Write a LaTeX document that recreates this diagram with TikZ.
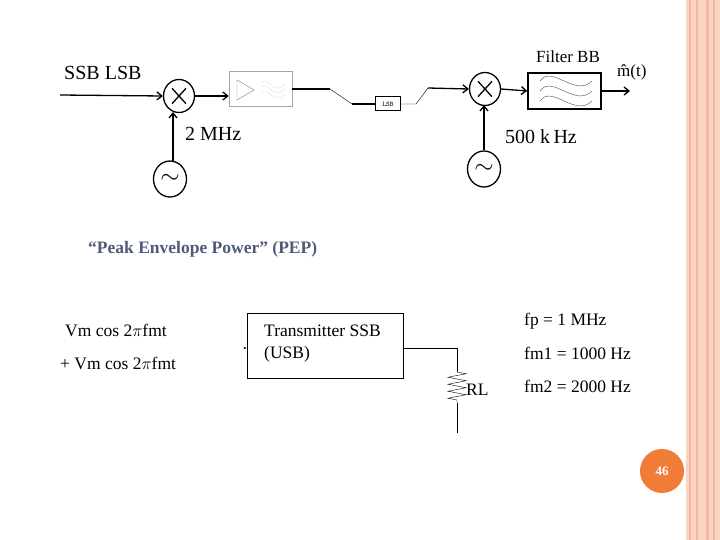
\documentclass[tikz,border=0pt]{standalone}
\usepackage{fontspec}
\setmainfont{Liberation Serif}
\usetikzlibrary{arrows.meta,decorations.pathmorphing,shapes.geometric,calc}
\definecolor{stripe}{HTML}{FBD3C3}
\definecolor{stripel}{HTML}{F5B7A0}
\definecolor{pgc}{HTML}{F07C38}
\definecolor{pepc}{HTML}{4F5B78}
\begin{document}
\begin{tikzpicture}[x=1pt,y=-1pt,
  wire/.style={line width=1.3pt},
  arr/.style={wire,-{Straight Barb[length=5pt,width=8pt]}},
  mix/.style={draw,line width=1.3pt,ellipse,minimum width=31pt,minimum height=33pt,inner sep=0pt},
  osc/.style={draw,line width=1.3pt,ellipse,minimum width=33pt,minimum height=36pt,inner sep=0pt,font=\fontsize{24}{24}\selectfont},
  lbl/.style={inner sep=0pt,font=\fontsize{20}{20}\selectfont},
  txt/.style={inner sep=0pt,anchor=west,font=\fontsize{17.5}{17.5}\selectfont}]
\useasboundingbox (0,0) rectangle (720,540);
\fill[white] (0,0) rectangle (720,540);
% right stripes
\fill[stripe] (686,0) rectangle (720,540);
\foreach \x/\w in {690/2.5,697/2,707/3,714/2}
  \draw[stripel,line width=\w pt] (\x,0) -- (\x,540);
% top chain
\node[lbl,anchor=west] (ssb) at (64,73) {SSB LSB};
\coordinate (in) at (60,95);
\node[mix] (m1) at (179,96) {};
\node[draw=gray!70,minimum width=63pt,minimum height=35pt,inner sep=0pt] (b1) at (260.5,89) {};
\draw[gray] (237,80) -- (254,90) -- (237,100) -- cycle;
\foreach \dy in {0,5,10}
  \draw[gray!70,densely dotted] (262,82+\dy) .. controls (268,76+\dy) and (274,96+\dy) .. (285,84+\dy);
\node[draw,line width=1pt,minimum width=25pt,minimum height=14pt,inner sep=0pt,font=\fontsize{7}{7}\selectfont\ttfamily] (lsb) at (388,104) {LSB};
\node[mix] (m2) at (485,89) {};
\draw[line width=1.3pt] ($(m2.north west)+(4.5,4.5)$) -- ($(m2.south east)+(-4.5,-4.5)$);
\draw[line width=1.3pt] ($(m2.north east)+(-4.5,4.5)$) -- ($(m2.south west)+(4.5,-4.5)$);
\draw[line width=1.3pt] ($(m1.north west)+(4.5,4.5)$) -- ($(m1.south east)+(-4.5,-4.5)$);
\draw[line width=1.3pt] ($(m1.north east)+(-4.5,4.5)$) -- ($(m1.south west)+(4.5,-4.5)$);
\node[draw,line width=1.5pt,minimum width=73pt,minimum height=36pt,inner sep=0pt] (fb) at (564.5,91) {};
\foreach \dy in {-10,0,10}
  \draw[gray!60!black] (540,91+\dy) .. controls (552,74+\dy) and (575,108+\dy) .. (592,91+\dy);
\node[inner sep=0pt,font=\fontsize{17}{17}\selectfont] (flt) at (568,57) {Filter BB};
\node[inner sep=0pt,anchor=west,font=\fontsize{17}{17}\selectfont] (mh) at (617,72) {\^{m}(t)};
\coordinate (out) at (630,91);
\node[osc] (o1) at (170,179) {$\sim$};
\node[osc] (o2) at (484,169) {$\sim$};
\node[lbl,anchor=west] (f1) at (185,134) {2 MHz};
\node[lbl,anchor=west] (f2) at (505,137) {500 k\,Hz};
\draw[arr] (in) -- (m1.west);
\draw[arr] (m1.east) -- (b1.west |- m1.east);
\draw[wire] (b1.east |- 0,89) -- (330,89);
\draw (330,89) -- (352,104);
\draw[wire] (352,104) -- (lsb.west);
\draw (lsb.east) -- (416,104) -- (428,88);
\draw[arr] (428,88) -- (m2.west);
\draw[arr] (m2.east) -- (fb.west);
\draw[arr] (fb.east) -- (out);
\draw[arr] (173,161) -- (173,112);
\draw[arr] (o2.north) -- (484,105);
% bottom
\node[inner sep=0pt,anchor=west,text=pepc,font=\fontsize{17.5}{17.5}\selectfont\bfseries] (pep) at (88,249) {``Peak Envelope Power'' (PEP)};
\node[txt] (v1) at (65,330) {Vm cos 2$\pi$fmt};
\node[txt] (v2) at (60,363) {+ Vm cos 2$\pi$fmt};
\node[draw,minimum width=156pt,minimum height=65pt,inner sep=0pt] (tx) at (325,345.5) {};
\node[txt,align=left,font=\fontsize{17.5}{22}\selectfont] (txl) at (264,344) {Transmitter SSB\\(USB)};
\coordinate (txin) at (244,348);
\draw[-{Latex[length=3pt]}] (txin) -- (tx.west |- txin);
\coordinate (r0) at (457,372);
\coordinate (r1) at (457,403);
\coordinate (gnd) at (457,433);
\draw (tx.east |- 0,348) -- (457,348) -- (r0);
\draw[decorate,decoration={zigzag,segment length=7pt,amplitude=9pt}] (r0) -- (r1);
\draw (r1) -- (gnd);
\node[txt] (rl) at (466,390) {RL};
\node[txt] (fp) at (524,321) {fp = 1 MHz};
\node[txt] (fm1) at (524,353) {fm1 = 1000 Hz};
\node[txt] (fm2) at (524,386) {fm2 = 2000 Hz};
\node[circle,fill=pgc,minimum size=44pt,inner sep=0pt,text=white,font=\fontsize{13}{13}\selectfont\bfseries] (pg) at (662,471) {46};
\end{tikzpicture}
\end{document}
